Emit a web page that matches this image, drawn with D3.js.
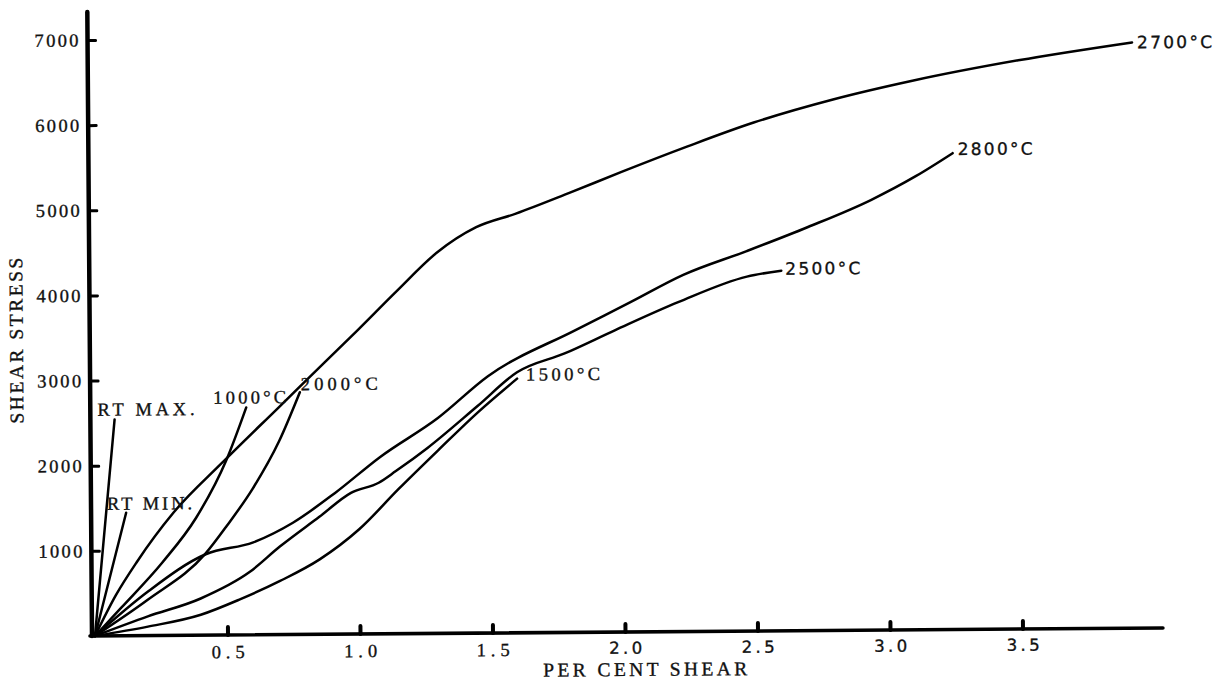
<!DOCTYPE html>
<html>
<head>
<meta charset="utf-8">
<script src="https://cdn.jsdelivr.net/npm/d3@7"></script>
<style>
body { margin: 0; background: #fff; }
svg { display: block; }
</style>
</head>
<body>
<svg id="chart" width="1226" height="683"></svg>
<script>
// curves: [per cent shear, shear stress]
var rtMax = [[0, 0], [0.08, 2540]];
var rtMin = [[0, 0], [0.121, 1445]];
var c1000 = [[0, 0], [0.1, 330], [0.257, 860], [0.385, 1380], [0.5, 2050], [0.577, 2670]];
var c2000 = [[0, 0], [0.2, 420], [0.42, 960], [0.5, 1280], [0.6, 1720], [0.7, 2270], [0.78, 2845]];
var c1500 = [[0, 0], [0.2, 105], [0.4, 240], [0.55, 420], [0.7, 630], [0.85, 880], [1.0, 1230],
  [1.15, 1700], [1.3, 2150], [1.45, 2590], [1.6, 2985]];
var c2500 = [[0, 0], [0.2, 225], [0.4, 431], [0.585, 737], [0.7, 1034], [0.85, 1380], [0.97, 1658],
  [1.075, 1775], [1.14, 1910], [1.26, 2179], [1.45, 2667], [1.6, 3060], [1.78, 3277], [1.97, 3544],
  [2.21, 3869], [2.47, 4163], [2.6, 4230]];
var c2800 = [[0, 0], [0.2, 515], [0.42, 950], [0.6, 1086], [0.75, 1313], [0.91, 1659], [1.08, 2075],
  [1.3, 2530], [1.49, 3016], [1.82, 3548], [2.03, 3873], [2.23, 4189], [2.47, 4463], [2.7, 4738],
  [2.94, 5052], [3.11, 5328], [3.25, 5595]];
var c2700 = [[0, 0], [0.08, 478], [0.16, 866], [0.3, 1443], [0.48, 2009], [0.7, 2670], [0.81, 3000],
  [1.0, 3570], [1.15, 4030], [1.3, 4470], [1.45, 4767], [1.6, 4923], [1.8, 5159], [2.0, 5404],
  [2.25, 5698], [2.5, 5972], [2.8, 6236], [3.1, 6449], [3.5, 6680], [3.93, 6880]];

var seriesNames = ['RT MAX.', 'RT MIN.', '1000°C', '2000°C', '1500°C', '2500°C', '2800°C', '2700°C'];
var seriesValues = [rtMax, rtMin, c1000, c2000, c1500, c2500, c2800, c2700];

var xTicks = [0.5, 1.0, 1.5, 2.0, 2.5, 3.0, 3.5];
var yTicks = [1000, 2000, 3000, 4000, 5000, 6000, 7000];

// label placement relative to curve end (layout only)
var labelLayout = [
  {dx: -17, dy: -4, w: 97, font: 'serif'},
  {dx: -19, dy: -3, w: 85, font: 'serif'},
  {dx: -33, dy: -4, w: 73, font: 'serif'},
  {dx: 1, dy: -2, w: 77, font: 'serif'},
  {dx: 9, dy: 2, w: 74, font: 'serif'},
  {dx: 4, dy: 4, w: 75, font: 'sans'},
  {dx: 5, dy: 2, w: 75, font: 'sans'},
  {dx: 5, dy: 6, w: 75, font: 'sans'}
];

var serif = '"Liberation Serif", "DejaVu Serif", serif';
var sans = '"DejaVu Sans", "Liberation Sans", sans-serif';

var x = d3.scaleLinear().domain([0, 4]).range([95, 1155]);
var y = d3.scaleLinear().domain([0, 7000]).range([636, 40]);

// the scanned page is tilted a little
var g = d3.select('#chart').append('g')
    .attr('transform', 'rotate(-0.43,' + 93 + ',' + 636 + ')');

function ink(sel) {
    sel.attr('fill', '#111').attr('stroke', '#111').attr('stroke-width', 0.35);
}

// axes lines
g.append('line')
    .attr('x1', 92).attr('x2', 92)
    .attr('y1', y(0)).attr('y2', 12)
    .attr('stroke', '#000').attr('stroke-width', 4.5)
    .attr('stroke-linecap', 'round');
g.append('line')
    .attr('x1', 90).attr('x2', x(4.03))
    .attr('y1', y(0)).attr('y2', y(0))
    .attr('stroke', '#000').attr('stroke-width', 3.6)
    .attr('stroke-linecap', 'round');

// y ticks: stubs to the right, labels on the left
var yStub = g.append('g')
    .attr('transform', 'translate(92,0)')
    .call(d3.axisRight(y).tickValues(yTicks).tickSize(8).tickFormat(''));
yStub.select('.domain').remove();
yStub.selectAll('line').attr('stroke-width', 3).attr('stroke-linecap', 'round');

var yLab = g.append('g')
    .attr('transform', 'translate(92,0)')
    .call(d3.axisLeft(y).tickValues(yTicks).tickSize(0).tickPadding(9).tickFormat(d3.format('d')));
yLab.select('.domain').remove();
yLab.selectAll('text')
    .attr('font-family', serif)
    .attr('font-size', 18.5)
    .attr('textLength', 44)
    .attr('lengthAdjust', 'spacing')
    .call(ink);

// x ticks: stubs upward, labels below
var xStub = g.append('g')
    .attr('transform', 'translate(0,' + y(0) + ')')
    .call(d3.axisTop(x).tickValues(xTicks).tickSize(8).tickFormat(''));
xStub.select('.domain').remove();
xStub.selectAll('line').attr('stroke-width', 4).attr('stroke-linecap', 'round');

var xLab = g.append('g')
    .attr('transform', 'translate(0,' + y(0) + ')')
    .call(d3.axisBottom(x).tickValues(xTicks).tickSize(0).tickPadding(10).tickFormat(d3.format('.1f')));
xLab.select('.domain').remove();
xLab.selectAll('text')
    .attr('font-family', function (d) { return d < 2 ? serif : sans; })
    .attr('font-size', function (d) { return d < 2 ? 18.5 : 16.5; })
    .attr('textLength', 33)
    .attr('lengthAdjust', 'spacing')
    .call(ink);

// axis titles
g.append('text')
    .attr('transform', 'translate(25,340) rotate(-90)')
    .attr('text-anchor', 'middle')
    .attr('font-family', serif)
    .attr('font-size', 19.5)
    .attr('textLength', 166)
    .attr('lengthAdjust', 'spacing')
    .call(ink)
    .text('SHEAR STRESS');

g.append('text')
    .attr('x', 645).attr('y', 680)
    .attr('text-anchor', 'middle')
    .attr('font-family', serif)
    .attr('font-size', 19.5)
    .attr('textLength', 204)
    .attr('lengthAdjust', 'spacing')
    .call(ink)
    .text('PER CENT SHEAR');

// curves
var line = d3.line()
    .x(function (d) { return x(d[0]); })
    .y(function (d) { return y(d[1]); })
    .curve(d3.curveMonotoneX);

g.selectAll('path.curve')
    .data(seriesValues)
    .enter()
    .append('path')
    .attr('class', 'curve')
    .attr('d', line)
    .attr('fill', 'none')
    .attr('stroke', '#000')
    .attr('stroke-width', 2.5)
    .attr('stroke-linecap', 'round');

// curve labels at the end of each curve
g.selectAll('text.curveLabel')
    .data(seriesNames)
    .enter()
    .append('text')
    .attr('class', 'curveLabel')
    .attr('x', function (d, i) {
        var last = seriesValues[i][seriesValues[i].length - 1];
        return x(last[0]) + labelLayout[i].dx;
    })
    .attr('y', function (d, i) {
        var last = seriesValues[i][seriesValues[i].length - 1];
        return y(last[1]) + labelLayout[i].dy;
    })
    .attr('font-family', function (d, i) { return labelLayout[i].font === 'serif' ? serif : sans; })
    .attr('font-size', function (d, i) { return labelLayout[i].font === 'serif' ? 18.5 : 17; })
    .attr('textLength', function (d, i) { return labelLayout[i].w; })
    .attr('lengthAdjust', 'spacing')
    .call(ink)
    .text(function (d) { return d; });
</script>
</body>
</html>
